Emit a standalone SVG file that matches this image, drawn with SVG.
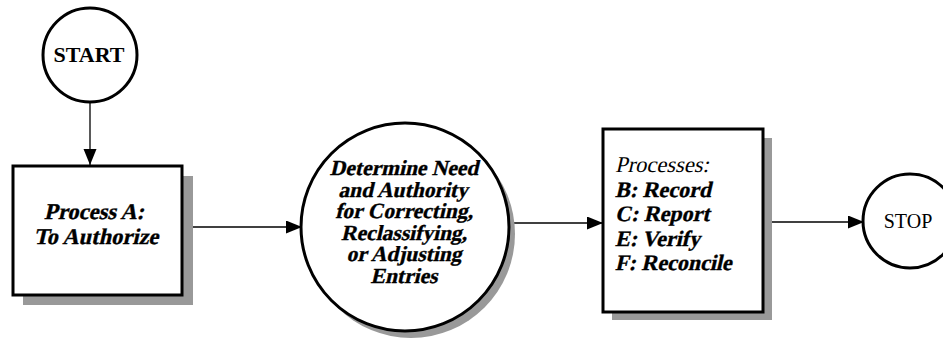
<svg xmlns="http://www.w3.org/2000/svg" width="943" height="340" viewBox="0 0 943 340">
<style>
.shape{fill:#fff;stroke:#000;stroke-width:3}
.shadow{fill:#999;stroke:none}
.conn{stroke:#000;stroke-width:1.3;fill:none}
.t{font-family:"Liberation Serif","Times New Roman",serif;fill:#000}
.b{font-weight:bold}
.c{text-anchor:middle}
.m{font-size:21.5px;font-weight:bold;stroke:#000;stroke-width:0.35}
.a{font-size:22.5px;font-weight:bold;stroke:#000;stroke-width:0.35}
.r{font-size:22px;font-weight:bold;stroke:#000;stroke-width:0.35}
</style>
<defs>
<marker id="arr" markerUnits="userSpaceOnUse" markerWidth="17" markerHeight="14" refX="16" refY="6.5" orient="auto">
<path d="M0,0 L16,6.5 L0,13 z" fill="#000"/>
</marker>
</defs>
<rect width="943" height="340" fill="#fff"/>
<g id="connectors">
<line class="conn" x1="90" y1="103" x2="90" y2="165" marker-end="url(#arr)"/>
<line class="conn" x1="182" y1="227" x2="302" y2="227" marker-end="url(#arr)"/>
<line class="conn" x1="509" y1="223" x2="603" y2="223" marker-end="url(#arr)"/>
<line class="conn" x1="763" y1="222" x2="864" y2="222" marker-end="url(#arr)"/>
</g>
<g id="start">
<circle class="shape" cx="90" cy="55" r="47"/>
<text class="t b c" x="89" y="62" font-size="22">START</text>
</g>
<g id="processA">
<rect class="shadow" x="23" y="176" width="170" height="129"/>
<rect class="shape" x="13" y="166" width="169" height="129"/>
<text class="t a c" transform="translate(94,219) skewX(-13)">Process A:</text>
<text class="t a c" transform="translate(96,244) skewX(-13)">To Authorize</text>
</g>
<g id="determine">
<circle class="shadow" cx="411" cy="234" r="104"/>
<circle class="shape" cx="405" cy="227" r="104"/>
<text class="t m c" transform="translate(404,175) skewX(-13)">Determine Need</text>
<text class="t m c" transform="translate(403,197) skewX(-13)">and Authority</text>
<text class="t m c" transform="translate(404,218) skewX(-13)">for Correcting,</text>
<text class="t m c" transform="translate(404,240) skewX(-13)">Reclassifying,</text>
<text class="t m c" transform="translate(404,261) skewX(-13)">or Adjusting</text>
<text class="t m c" transform="translate(404,283) skewX(-13)">Entries</text>
</g>
<g id="processes">
<rect class="shadow" x="612" y="138" width="160" height="182"/>
<rect class="shape" x="603" y="129" width="160" height="183"/>
<text class="t" font-size="22.5" transform="translate(615,172) skewX(-13)">Processes:</text>
<text class="t r" transform="translate(615,196.5) skewX(-13)">B: Record</text>
<text class="t r" transform="translate(615,221) skewX(-13)">C: Report</text>
<text class="t r" transform="translate(615,245.5) skewX(-13)">E: Verify</text>
<text class="t r" transform="translate(615,270) skewX(-13)">F: Reconcile</text>
</g>
<g id="stop">
<circle class="shape" cx="910" cy="221" r="47"/>
<text class="t c" x="908" y="228" font-size="20">STOP</text>
</g>
</svg>
